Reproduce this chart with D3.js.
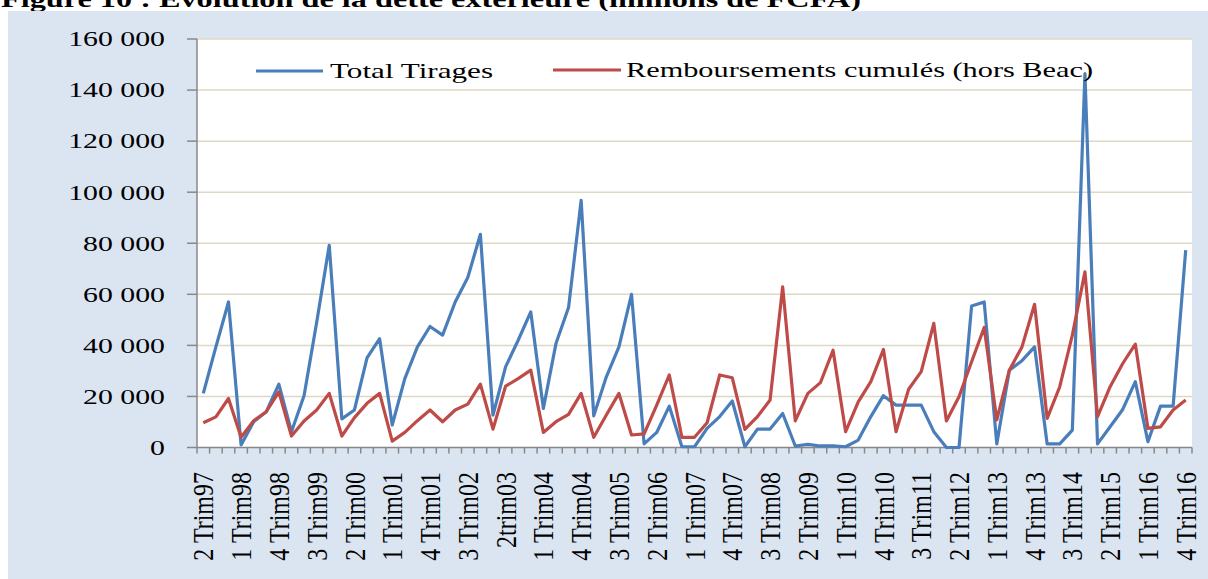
<!DOCTYPE html>
<html>
<head>
<meta charset="utf-8">
<script src="https://cdn.jsdelivr.net/npm/d3@7"></script>
<style>
    body { margin: 0; background: #ffffff; }
    svg { display: block; }
    text { font-family: "Liberation Serif", "Times New Roman", serif; fill: #000; }
</style>
</head>
<body>
<div id="chart"></div>
<script>
const quarters = [
    "2 Trim97", "3 Trim97", "4 Trim97",
    "1 Trim98", "2 Trim98", "3 Trim98", "4 Trim98",
    "1 Trim99", "2 Trim99", "3 Trim99", "4 Trim99",
    "1 Trim00", "2 Trim00", "3 Trim00", "4 Trim00",
    "1 Trim01", "2 Trim01", "3 Trim01", "4 Trim01",
    "1 Trim02", "2 Trim02", "3 Trim02", "4 Trim02",
    "1 Trim03", "2trim03", "3 Trim03", "4 Trim03",
    "1 Trim04", "2 Trim04", "3 Trim04", "4 Trim04",
    "1 Trim05", "2 Trim05", "3 Trim05", "4 Trim05",
    "1 Trim06", "2 Trim06", "3 Trim06", "4 Trim06",
    "1 Trim07", "2 Trim07", "3 Trim07", "4 Trim07",
    "1 Trim08", "2 Trim08", "3 Trim08", "4 Trim08",
    "1 Trim09", "2 Trim09", "3 Trim09", "4 Trim09",
    "1 Trim10", "2 Trim10", "3 Trim10", "4 Trim10",
    "1 Trim11", "2 Trim11", "3 Trim11", "4 Trim11",
    "1 Trim12", "2 Trim12", "3 Trim12", "4 Trim12",
    "1 Trim13", "2 Trim13", "3 Trim13", "4 Trim13",
    "1 Trim14", "2 Trim14", "3 Trim14", "4 Trim14",
    "1 Trim15", "2 Trim15", "3 Trim15", "4 Trim15",
    "1 Trim16", "2 Trim16", "3 Trim16", "4 Trim16"
];

const tirages = [
    21200, 39400, 57000, 1000, 10100, 14000, 24800, 6200, 20300, 49000,
    79200, 11200, 14700, 35100, 42600, 8800, 27000, 39400, 47400, 44000,
    57000, 66600, 83500, 12700, 31600, 42000, 53100, 15300, 40700, 54800,
    96800, 12400, 27700, 39400, 60000, 1400, 5900, 16200, 300, 300,
    7500, 12100, 18200, 300, 7200, 7200, 13300, 600, 1200, 600,
    600, 300, 2900, 12100, 20300, 16600, 16600, 16600, 6200, 0,
    0, 55400, 57000, 1400, 30300, 34000, 39400, 1400, 1400, 6800,
    146400, 1400, 8100, 14900, 25800, 2300, 16200, 16200, 77300
];

const remboursements = [
    9700, 12000, 19200, 4000, 10500, 14000, 21800, 4500, 10400, 14700,
    21200, 4500, 11700, 17300, 21200, 2500, 5900, 10500, 14700, 10100,
    14700, 17000, 24800, 7200, 24000, 27000, 30300, 5900, 10100, 13000,
    21200, 4000, 12700, 21200, 4900, 5300, 16600, 28400, 4000, 4000,
    9700, 28400, 27300, 7100, 12100, 18600, 62900, 10400, 21200, 25400,
    38100, 6200, 17900, 25800, 38400, 6200, 22800, 29700, 48600, 10400,
    19900, 33600, 47000, 10800, 30300, 39400, 56100, 11400, 23800, 44000,
    68800, 12100, 23800, 32900, 40500, 7500, 8100, 14700, 18600
];

const yTicks = [0, 20000, 40000, 60000, 80000, 100000, 120000, 140000, 160000];

const seriesNames = ["Total Tirages", "Remboursements cumulés (hors Beac)"];
const seriesColors = ["#4a7ebb", "#be4b48"];

const width = 1208, height = 579;
const plot = { left: 197, right: 1192, top: 39, bottom: 447.5 };

const fr = d3.formatLocale({ decimal: ",", thousands: " ", grouping: [3], currency: ["", ""] });
const fmt = fr.format(",");

const svg = d3.select("#chart").append("svg")
    .attr("width", width)
    .attr("height", height);

// title, cut off at the top of the picture
svg.append("text")
    .attr("x", 1)
    .attr("y", 7)
    .attr("font-size", 24)
    .attr("font-weight", "bold")
    .attr("textLength", 860)
    .attr("lengthAdjust", "spacingAndGlyphs")
    .text("Figure 10 : Evolution de la dette extérieure (millions de FCFA)");

// chart background and plot area
svg.append("rect")
    .attr("x", 8).attr("y", 11)
    .attr("width", width - 8).attr("height", height - 11)
    .attr("fill", "#dbe5f1");

svg.append("rect")
    .attr("x", plot.left).attr("y", plot.top)
    .attr("width", plot.right - plot.left).attr("height", plot.bottom - plot.top)
    .attr("fill", "#ffffff");

const x = d3.scaleBand()
    .domain(quarters)
    .range([plot.left, plot.right])
    .padding(0);

const y = d3.scaleLinear()
    .domain([0, 160000])
    .range([plot.bottom, plot.top]);

const cx = d => x(d) + x.bandwidth() / 2;

// horizontal gridlines
svg.append("g")
    .selectAll("line")
    .data(yTicks.filter(d => d > 0))
    .enter().append("line")
    .attr("x1", plot.left).attr("x2", plot.right)
    .attr("y1", d => y(d)).attr("y2", d => y(d))
    .attr("stroke", "#ddd8c3")
    .attr("stroke-width", 1.5);

// y axis
const yAxis = svg.append("g");
yAxis.append("line")
    .attr("x1", plot.left).attr("x2", plot.left)
    .attr("y1", plot.top).attr("y2", plot.bottom)
    .attr("stroke", "#888888").attr("stroke-width", 1.5);

yAxis.selectAll(".ytick")
    .data(yTicks)
    .enter().append("line")
    .attr("x1", plot.left - 10).attr("x2", plot.left)
    .attr("y1", d => y(d)).attr("y2", d => y(d))
    .attr("stroke", "#888888").attr("stroke-width", 1.5);

yAxis.selectAll(".ylabel")
    .data(yTicks)
    .enter().append("g")
    .attr("transform", d => `translate(165, ${y(d)}) scale(1.42, 1)`)
    .append("text")
    .attr("text-anchor", "end")
    .attr("dy", "0.35em")
    .attr("font-size", 21)
    .text(d => fmt(d));

// x axis
const xAxis = svg.append("g");
xAxis.append("line")
    .attr("x1", plot.left).attr("x2", plot.right)
    .attr("y1", plot.bottom).attr("y2", plot.bottom)
    .attr("stroke", "#888888").attr("stroke-width", 1.5);

xAxis.selectAll(".xtick")
    .data(quarters.concat([null]))
    .enter().append("line")
    .attr("x1", d => d === null ? plot.right : x(d))
    .attr("x2", d => d === null ? plot.right : x(d))
    .attr("y1", plot.bottom).attr("y2", plot.bottom + 6)
    .attr("stroke", "#888888").attr("stroke-width", 1.5);

xAxis.selectAll(".xlabel")
    .data(quarters.filter((d, i) => i % 3 === 0))
    .enter().append("g")
    .attr("transform", d => `translate(${cx(d)}, 472) scale(1.2, 1) rotate(-90)`)
    .append("text")
    .attr("text-anchor", "end")
    .attr("dy", "0.35em")
    .attr("font-size", 24)
    .text(d => d);

// lines
const line = d3.line()
    .x((d, i) => cx(quarters[i]))
    .y(d => y(d));

[tirages, remboursements].forEach((s, k) => {
    svg.append("path")
        .datum(s)
        .attr("d", line)
        .attr("fill", "none")
        .attr("stroke", seriesColors[k])
        .attr("stroke-width", 3.2)
        .attr("stroke-linejoin", "round");
});

// legend
const legend = [
    { x1: 256, x2: 323, ty: 71, tx: 330, len: 163 },
    { x1: 553, x2: 621, ty: 70, tx: 626, len: 467 }
];

legend.forEach((l, k) => {
    svg.append("line")
        .attr("x1", l.x1).attr("x2", l.x2)
        .attr("y1", l.ty).attr("y2", l.ty)
        .attr("stroke", seriesColors[k])
        .attr("stroke-width", 3.2);
    svg.append("text")
        .attr("x", l.tx)
        .attr("y", l.ty)
        .attr("dy", "0.35em")
        .attr("font-size", 21)
        .attr("textLength", l.len)
        .attr("lengthAdjust", "spacingAndGlyphs")
        .text(seriesNames[k]);
});
</script>
</body>
</html>
